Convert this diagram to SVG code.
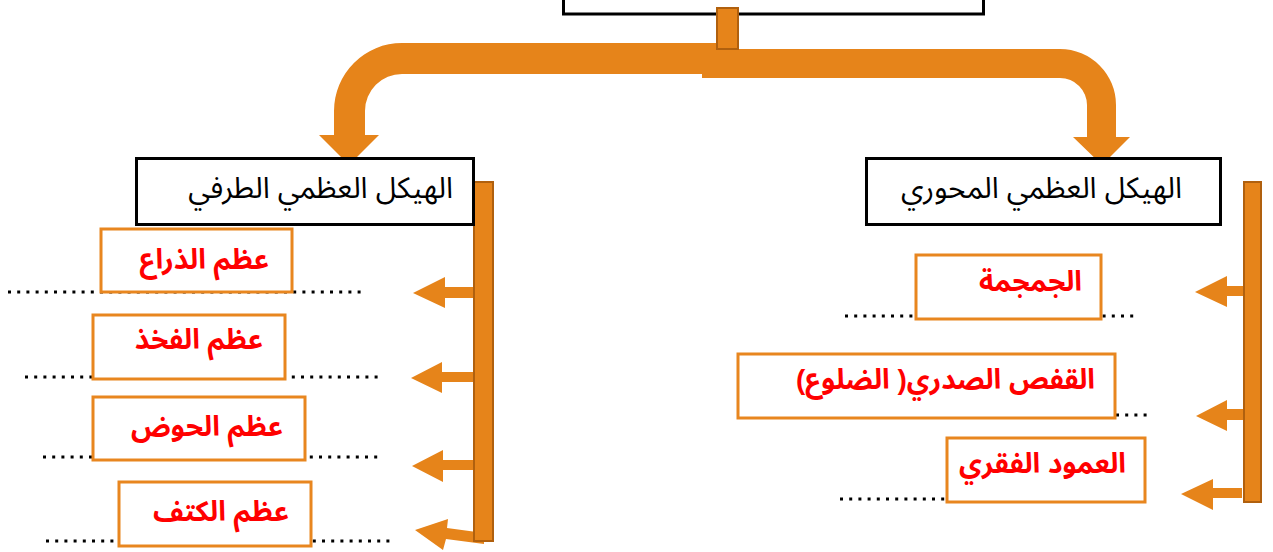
<svg xmlns="http://www.w3.org/2000/svg" width="1273" height="552" viewBox="0 0 1273 552">
<style>
.or{fill:#E6841A}
.bar{fill:#E6841A;stroke:#B0600E;stroke-width:2}
.nb{fill:#fff;stroke:#000;stroke-width:3}
.ib{fill:#fff;stroke:#E8861F;stroke-width:3}
.dot{stroke:#000;stroke-width:3;stroke-dasharray:3 6.2;fill:none}
.lbl{font-family:"Liberation Sans","Noto Sans Arabic","Noto Naskh Arabic","DejaVu Sans",sans-serif;font-size:29.5px;fill:#000}
.it{font-family:"Liberation Sans","Noto Sans Arabic","Noto Naskh Arabic","DejaVu Sans",sans-serif;font-size:28px;font-weight:bold;fill:#FF0000}
</style>
<rect width="1273" height="552" fill="#fff"/>
<g id="root">
<rect class="nb" x="563.5" y="-10" width="420" height="24"/>
</g>
<g id="connectors">
<path class="or" d="M702,49 H1060 A56,56 0 0 1 1116,105 V137 H1130 L1102,165 L1073,137 H1087 V105 A27,27 0 0 0 1060,78 H702 Z"/>
<path class="or" d="M727,43 H402 A68,68 0 0 0 334,111 V135 H319 L349,165 L379,135 H365 V111 A37,37 0 0 1 402,74 H727 Z"/>
<rect class="bar" x="717" y="8" width="21" height="41"/>
<polygon class="or" points="474,287 445,287 445,277 413,293 445,308 445,298 474,298"/>
<polygon class="or" points="474,372 442,372 442,362 411,378 442,393 442,382 474,382"/>
<polygon class="or" points="474,460 443,460 443,450 412,466 443,482 443,470 474,470"/>
<polygon class="or" points="484,533 447,528 448,519 415,530 443,550 446,539 484,544"/>
<polygon class="or" points="1244,286 1227,286 1227,276 1195,292 1227,307 1227,296 1244,296"/>
<polygon class="or" points="1244,409 1227,409 1227,400 1196,416 1227,431 1227,420 1244,420"/>
<polygon class="or" points="1242,488 1213,488 1213,479 1181,494 1213,510 1213,498 1242,498"/>
<rect class="bar" x="474" y="182" width="19" height="359"/>
<rect class="bar" x="1244" y="182" width="17" height="320"/>
<line class="dot" x1="8" y1="292" x2="363" y2="292"/>
<line class="dot" x1="25" y1="377" x2="380" y2="377"/>
<line class="dot" x1="43" y1="457" x2="379" y2="457"/>
<line class="dot" x1="46" y1="541" x2="393" y2="541"/>
<line class="dot" x1="845" y1="316" x2="1137" y2="316"/>
<line class="dot" x1="1116" y1="415" x2="1148" y2="415"/>
<line class="dot" x1="840" y1="499" x2="946" y2="499"/>
</g>
<g id="appendicular">
<rect class="nb" x="136.5" y="158.5" width="337" height="66"/>
<text class="lbl" x="453" y="198" direction="rtl" text-anchor="start">الهيكل العظمي الطرفي</text>
</g>
<g id="axial">
<rect class="nb" x="866.5" y="158.5" width="354" height="66"/>
<text class="lbl" x="1182" y="198" direction="rtl" text-anchor="start">الهيكل العظمي المحوري</text>
</g>
<g id="humerus">
<rect class="ib" x="101" y="229" width="191" height="63"/>
<text class="it" x="269" y="269" direction="rtl" text-anchor="start" font-size="29.5">عظم الذراع</text>
</g>
<g id="femur">
<rect class="ib" x="93" y="315" width="192" height="64"/>
<text class="it" x="263" y="349" direction="rtl" text-anchor="start" font-size="27">عظم الفخذ</text>
</g>
<g id="pelvis">
<rect class="ib" x="93" y="397" width="212" height="63"/>
<text class="it" x="283" y="436" direction="rtl" text-anchor="start">عظم الحوض</text>
</g>
<g id="scapula">
<rect class="ib" x="119" y="482" width="192" height="64"/>
<text class="it" x="289" y="521" direction="rtl" text-anchor="start" font-size="27">عظم الكتف</text>
</g>
<g id="skull">
<rect class="ib" x="916" y="255" width="185" height="64"/>
<text class="it" x="1082" y="291" direction="rtl" text-anchor="start" font-size="27">الجمجمة</text>
</g>
<g id="ribcage">
<rect class="ib" x="738" y="354" width="377" height="64"/>
<text class="it" x="1095" y="389" direction="rtl" text-anchor="start">القفص الصدري( الضلوع)</text>
</g>
<g id="spine">
<rect class="ib" x="947" y="438" width="198" height="64"/>
<text class="it" x="1126" y="473" direction="rtl" text-anchor="start" font-size="26.5">العمود الفقري</text>
</g>
</svg>
